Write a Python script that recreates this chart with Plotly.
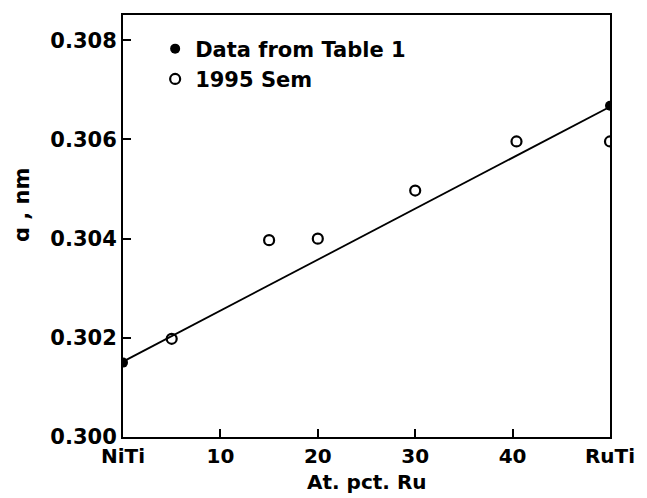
import plotly.graph_objects as go

# Data
table1_x = [0, 50]
table1_y = [0.30150, 0.30668]
sem_x = [5, 15, 20, 30, 40.4, 50]
sem_y = [0.30198, 0.30397, 0.30400, 0.30497, 0.30596, 0.30596]
fit_x = [0, 50]
fit_y = [0.30152, 0.30666]

x_tickvals = [0, 10, 20, 30, 40, 50]
x_ticktext = ["NiTi", "10", "20", "30", "40", "RuTi"]
y_tickvals = [0.300, 0.302, 0.304, 0.306, 0.308]
y_ticktext = ["0.300", "0.302", "0.304", "0.306", "0.308"]

FONT = "DejaVu Sans"

fig = go.Figure()
fig.add_trace(go.Scatter(x=fit_x, y=fit_y, mode="lines",
                         line=dict(color="black", width=1.8),
                         showlegend=False, hoverinfo="skip"))
fig.add_trace(go.Scatter(x=table1_x, y=table1_y, mode="markers",
                         name="Data from Table 1",
                         marker=dict(symbol="circle", size=10, color="black")))
fig.add_trace(go.Scatter(x=sem_x, y=sem_y, mode="markers",
                         name="1995 Sem",
                         marker=dict(symbol="circle-open", size=10, color="black",
                                     line=dict(width=2.2))))

fig.update_layout(
    width=647, height=498,
    margin=dict(l=123, r=26, t=15, b=61),
    paper_bgcolor="white", plot_bgcolor="white",
    font=dict(family=FONT, size=21, color="black", weight="bold"),
    legend=dict(x=0.066, y=0.968, xanchor="left", yanchor="top",
                bgcolor="rgba(0,0,0,0)",
                font=dict(size=21, weight="bold"),
                itemsizing="trace", tracegroupgap=0),
    xaxis=dict(range=[0, 50], tickvals=x_tickvals, ticktext=x_ticktext,
               ticks="inside", ticklen=8, tickwidth=1.5, tickcolor="black",
               showline=True, linecolor="black", linewidth=2, mirror=True,
               showgrid=False, zeroline=False,
               tickfont=dict(size=20, weight="bold")),
    yaxis=dict(range=[0.300, 0.30851], tickvals=y_tickvals, ticktext=y_ticktext,
               ticks="inside", ticklen=8, tickwidth=1.5, tickcolor="black",
               showline=True, linecolor="black", linewidth=2, mirror=True,
               showgrid=False, zeroline=False,
               tickfont=dict(size=21, weight="bold")),
    annotations=[
        dict(text="At. pct. Ru", x=0.5, y=-0.1395, xref="paper", yref="paper",
             xanchor="center", yanchor="bottom", showarrow=False,
             font=dict(size=20, weight="bold")),
        dict(text="ɑ , nm", x=-0.207, y=0.55, xref="paper", yref="paper",
             xanchor="center", yanchor="middle", showarrow=False,
             textangle=-90, font=dict(size=21, weight="bold")),
    ],
)

fig.write_html("out.html",
               config={"displayModeBar": False},
               post_script="document.body.style.margin='0';"
                           "document.body.style.overflow='hidden';")
